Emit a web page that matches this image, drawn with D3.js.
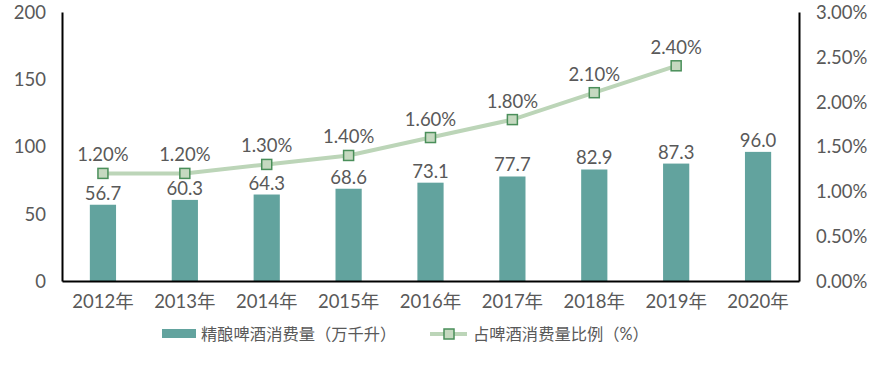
<!DOCTYPE html>
<html><head><meta charset="utf-8">
<script src="https://cdn.jsdelivr.net/npm/d3@7"></script>
<style>body{margin:0;background:#fff}text{font-family:"Century Gothic",Lato,"Noto Sans CJK SC",sans-serif;fill:#595959}</style>
</head><body><svg id="c" width="876" height="367"></svg>
<script>
const categories=["2012年","2013年","2014年","2015年","2016年","2017年","2018年","2019年","2020年"];
const volume=[56.7,60.3,64.3,68.6,73.1,77.7,82.9,87.3,96.0];
const share=[1.2,1.2,1.3,1.4,1.6,1.8,2.1,2.4];
const leftTicks=[0,50,100,150,200];
const rightTicks=[0,0.5,1,1.5,2,2.5,3];
const seriesNames=["精酿啤酒消费量（万千升）","占啤酒消费量比例（%）"];

const svg=d3.select("#c");
const L=62,R=799,T=12,B=281;
const x=d3.scaleBand().domain(categories).range([L,R]).paddingInner(0.68).paddingOuter(0.34);
const y=d3.scaleLinear().domain([0,200]).range([B,T]);
const y2=d3.scaleLinear().domain([0,3]).range([B,T]);
const fs=18.5;

// bars
svg.selectAll("rect.bar").data(volume).join("rect").attr("class","bar")
 .attr("x",(d,i)=>x(categories[i])).attr("width",x.bandwidth())
 .attr("y",d=>y(d)).attr("height",d=>B-y(d)).attr("fill","#62a39e");
svg.selectAll("text.bl").data(volume).join("text").attr("class","bl")
 .attr("x",(d,i)=>x(categories[i])+x.bandwidth()/2).attr("y",d=>y(d)-5)
 .attr("text-anchor","middle").attr("font-size",fs).text(d=>d.toFixed(1));

// axes
const gL=svg.append("g").attr("transform",`translate(${L},0)`).call(d3.axisLeft(y).tickValues(leftTicks).tickSize(0).tickPadding(16));
const gR=svg.append("g").attr("transform",`translate(${R},0)`).call(d3.axisRight(y2).tickValues(rightTicks).tickSize(0).tickPadding(17).tickFormat(d=>d.toFixed(2)+"%"));
const gB=svg.append("g").attr("transform",`translate(0,${B})`).call(d3.axisBottom(x).tickSize(0).tickPadding(14));
[gL,gR,gB].forEach(g=>{g.select(".domain").attr("stroke","#000").attr("stroke-width",2);g.selectAll("text").attr("font-size",fs).attr("fill","#595959").attr("font-family",null);});
gL.selectAll(".tick text").attr("dy","0.35em");
gR.selectAll(".tick text").attr("dy","0.35em");

// line
const cx=i=>x(categories[i])+x.bandwidth()/2;
svg.append("path").datum(share).attr("fill","none").attr("stroke","#bcd5b8").attr("stroke-width",4)
 .attr("d",d3.line().x((d,i)=>cx(i)).y(d=>y2(d)));
svg.selectAll("rect.mk").data(share).join("rect").attr("class","mk")
 .attr("x",(d,i)=>cx(i)-5).attr("y",d=>y2(d)-5).attr("width",10).attr("height",10)
 .attr("fill","#c5d9c0").attr("stroke","#4a8f5a").attr("stroke-width",1.5);
svg.selectAll("text.ll").data(share).join("text").attr("class","ll")
 .attr("x",(d,i)=>cx(i)).attr("y",d=>y2(d)-12).attr("text-anchor","middle").attr("font-size",fs)
 .text(d=>d.toFixed(2)+"%");

// legend
const lg=svg.append("g");
lg.append("rect").attr("x",162).attr("y",329).attr("width",34).attr("height",9).attr("fill","#62a39e");
lg.append("text").attr("x",201).attr("y",340).attr("font-size",16.3).text(seriesNames[0]);
lg.append("line").attr("x1",430).attr("x2",467).attr("y1",334).attr("y2",334).attr("stroke","#bcd5b8").attr("stroke-width",4);
lg.append("rect").attr("x",444).attr("y",329).attr("width",10).attr("height",10).attr("fill","#c5d9c0").attr("stroke","#4a8f5a").attr("stroke-width",1.5);
lg.append("text").attr("x",473).attr("y",340).attr("font-size",16.3).text(seriesNames[1]);
</script></body></html>
